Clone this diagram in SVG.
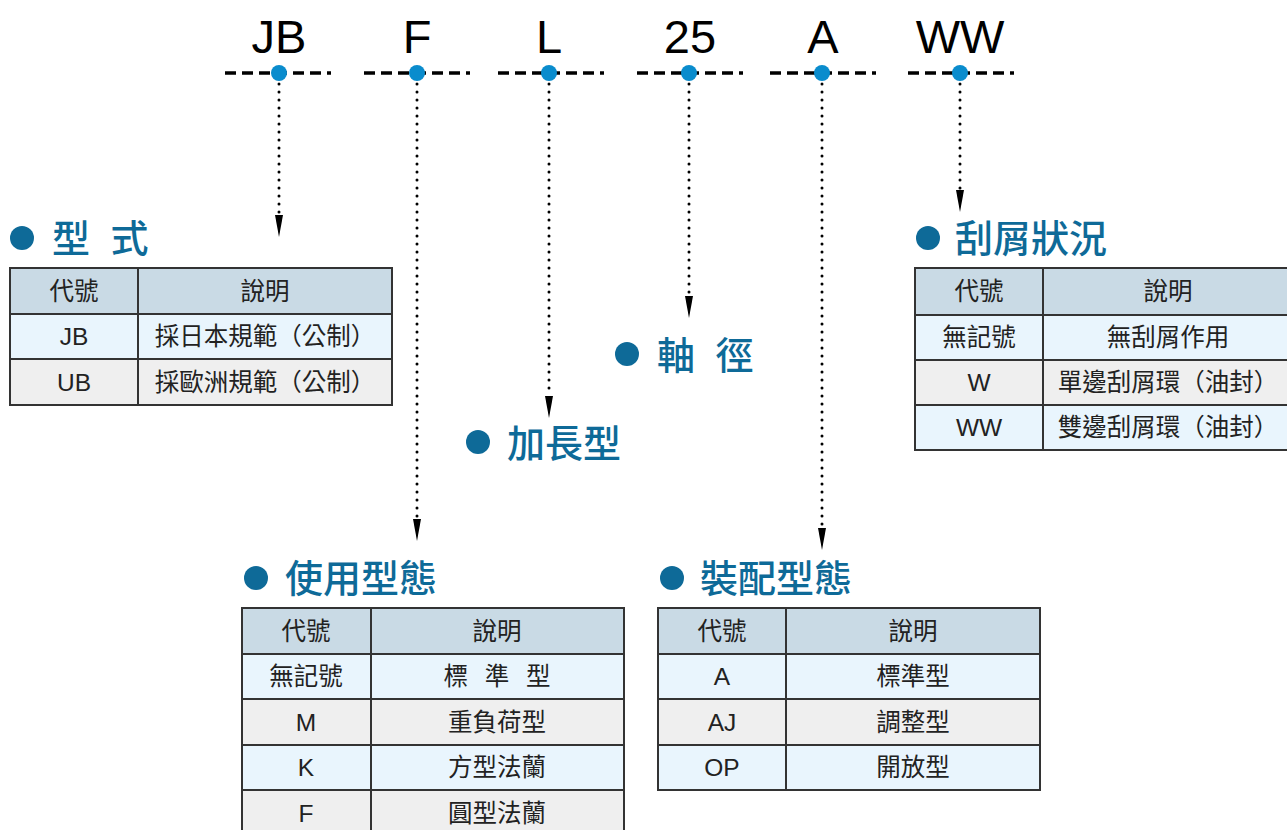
<svg xmlns="http://www.w3.org/2000/svg" width="1287" height="830" viewBox="0 0 1287 830">
<defs>
<style>
.code{font-family:"Liberation Sans","Noto Sans CJK TC",sans-serif;font-size:47px;fill:#000;text-anchor:middle}
.dash{stroke:#000;stroke-width:3.5;stroke-dasharray:11 6;fill:none}
.pin{fill:#0a8ccd}
.dot{stroke:#000;stroke-width:3;stroke-linecap:round;stroke-dasharray:0 8;fill:none}
.title{font-family:"Noto Sans CJK TC","Liberation Sans",sans-serif;font-size:38px;font-weight:500;fill:#0e6a98}
.bullet{fill:#0e6a98}
.cell{stroke:#333;stroke-width:2}
.hd{fill:#c9dae5}
.r1{fill:#e9f5fd}
.r2{fill:#efefef}
.t{font-family:"Liberation Sans","Noto Sans CJK TC",sans-serif;font-size:24.5px;fill:#222;text-anchor:middle}
</style>
</defs>
<rect width="1287" height="830" fill="#fff"/>

<g id="codes">
<text class="code" x="279" y="53">JB</text>
<text class="code" x="417" y="53">F</text>
<text class="code" x="549" y="53">L</text>
<text class="code" x="690" y="53">25</text>
<text class="code" x="823" y="53">A</text>
<text class="code" x="960" y="53">WW</text>
<line class="dash" x1="225" y1="73" x2="331" y2="73"/>
<line class="dash" x1="364" y1="73" x2="470" y2="73"/>
<line class="dash" x1="498" y1="73" x2="604" y2="73"/>
<line class="dash" x1="637" y1="73" x2="743" y2="73"/>
<line class="dash" x1="770" y1="73" x2="876" y2="73"/>
<line class="dash" x1="908" y1="73" x2="1014" y2="73"/>
<circle class="pin" cx="279" cy="73" r="8"/>
<circle class="pin" cx="417" cy="73" r="8"/>
<circle class="pin" cx="549" cy="73" r="8"/>
<circle class="pin" cx="689" cy="73" r="8"/>
<circle class="pin" cx="822" cy="73" r="8"/>
<circle class="pin" cx="960" cy="73" r="8"/>
</g>

<g id="connectors">
<line class="dot" x1="279" y1="84" x2="279" y2="214"/>
<path d="M275,215 L283,215 L279,237 Z"/>
<line class="dot" x1="417" y1="84" x2="417" y2="518"/>
<path d="M413,519 L421,519 L417,541 Z"/>
<line class="dot" x1="549" y1="84" x2="549" y2="395"/>
<path d="M545,396 L553,396 L549,418 Z"/>
<line class="dot" x1="689" y1="84" x2="689" y2="295"/>
<path d="M685,296 L693,296 L689,318 Z"/>
<line class="dot" x1="822" y1="84" x2="822" y2="527"/>
<path d="M818,528 L826,528 L822,550 Z"/>
<line class="dot" x1="960" y1="84" x2="960" y2="189"/>
<path d="M956,190 L964,190 L960,212 Z"/>
</g>

<g id="type">
<circle class="bullet" cx="22" cy="238" r="12"/>
<text class="title" x="52" y="252" xml:space="preserve" word-spacing="12">型 式</text>
<rect class="cell hd" x="10" y="268" width="128" height="46"/>
<rect class="cell hd" x="138" y="268" width="254" height="46"/>
<rect class="cell r1" x="10" y="314" width="128" height="45"/>
<rect class="cell r1" x="138" y="314" width="254" height="45"/>
<rect class="cell r2" x="10" y="359" width="128" height="46"/>
<rect class="cell r2" x="138" y="359" width="254" height="46"/>
<text class="t" x="74" y="300">代號</text>
<text class="t" x="265" y="300">說明</text>
<text class="t" x="74" y="345">JB</text>
<text class="t" x="265" y="345">採日本規範（公制）</text>
<text class="t" x="74" y="391">UB</text>
<text class="t" x="265" y="391">採歐洲規範（公制）</text>
</g>

<g id="wiper">
<circle class="bullet" cx="928" cy="238" r="12"/>
<text class="title" x="955" y="252">刮屑狀況</text>
<rect class="cell hd" x="915" y="268" width="128" height="47"/>
<rect class="cell hd" x="1043" y="268" width="250" height="47"/>
<rect class="cell r1" x="915" y="315" width="128" height="45"/>
<rect class="cell r1" x="1043" y="315" width="250" height="45"/>
<rect class="cell r2" x="915" y="360" width="128" height="45"/>
<rect class="cell r2" x="1043" y="360" width="250" height="45"/>
<rect class="cell r1" x="915" y="405" width="128" height="45"/>
<rect class="cell r1" x="1043" y="405" width="250" height="45"/>
<text class="t" x="979" y="300">代號</text>
<text class="t" x="1168" y="300">說明</text>
<text class="t" x="979" y="346">無記號</text>
<text class="t" x="1168" y="346">無刮屑作用</text>
<text class="t" x="979" y="391">W</text>
<text class="t" x="1168" y="391">單邊刮屑環（油封）</text>
<text class="t" x="979" y="436">WW</text>
<text class="t" x="1168" y="436">雙邊刮屑環（油封）</text>
</g>

<g id="shaft">
<circle class="bullet" cx="627" cy="354" r="12"/>
<text class="title" x="657" y="369" xml:space="preserve" word-spacing="12">軸 徑</text>
</g>

<g id="extended">
<circle class="bullet" cx="478" cy="442" r="12"/>
<text class="title" x="507" y="457">加長型</text>
</g>

<g id="usage">
<circle class="bullet" cx="256" cy="578" r="12"/>
<text class="title" x="285" y="592">使用型態</text>
<rect class="cell hd" x="242" y="608" width="129" height="46"/>
<rect class="cell hd" x="371" y="608" width="253" height="46"/>
<rect class="cell r1" x="242" y="654" width="129" height="45"/>
<rect class="cell r1" x="371" y="654" width="253" height="45"/>
<rect class="cell r2" x="242" y="699" width="129" height="46"/>
<rect class="cell r2" x="371" y="699" width="253" height="46"/>
<rect class="cell r1" x="242" y="745" width="129" height="45"/>
<rect class="cell r1" x="371" y="745" width="253" height="45"/>
<rect class="cell r2" x="242" y="790" width="129" height="46"/>
<rect class="cell r2" x="371" y="790" width="253" height="46"/>
<text class="t" x="306" y="640">代號</text>
<text class="t" x="497" y="640">說明</text>
<text class="t" x="306" y="685">無記號</text>
<text class="t" x="497" y="685" xml:space="preserve" word-spacing="10">標 準 型</text>
<text class="t" x="306" y="731">M</text>
<text class="t" x="497" y="731">重負荷型</text>
<text class="t" x="306" y="776">K</text>
<text class="t" x="497" y="776">方型法蘭</text>
<text class="t" x="306" y="822">F</text>
<text class="t" x="497" y="822">圓型法蘭</text>
</g>

<g id="mount">
<circle class="bullet" cx="672" cy="578" r="12"/>
<text class="title" x="700" y="592">裝配型態</text>
<rect class="cell hd" x="658" y="608" width="128" height="46"/>
<rect class="cell hd" x="786" y="608" width="254" height="46"/>
<rect class="cell r1" x="658" y="654" width="128" height="45"/>
<rect class="cell r1" x="786" y="654" width="254" height="45"/>
<rect class="cell r2" x="658" y="699" width="128" height="46"/>
<rect class="cell r2" x="786" y="699" width="254" height="46"/>
<rect class="cell r1" x="658" y="745" width="128" height="45"/>
<rect class="cell r1" x="786" y="745" width="254" height="45"/>
<text class="t" x="722" y="640">代號</text>
<text class="t" x="913" y="640">說明</text>
<text class="t" x="722" y="685">A</text>
<text class="t" x="913" y="685">標準型</text>
<text class="t" x="722" y="731">AJ</text>
<text class="t" x="913" y="731">調整型</text>
<text class="t" x="722" y="776">OP</text>
<text class="t" x="913" y="776">開放型</text>
</g>
</svg>
